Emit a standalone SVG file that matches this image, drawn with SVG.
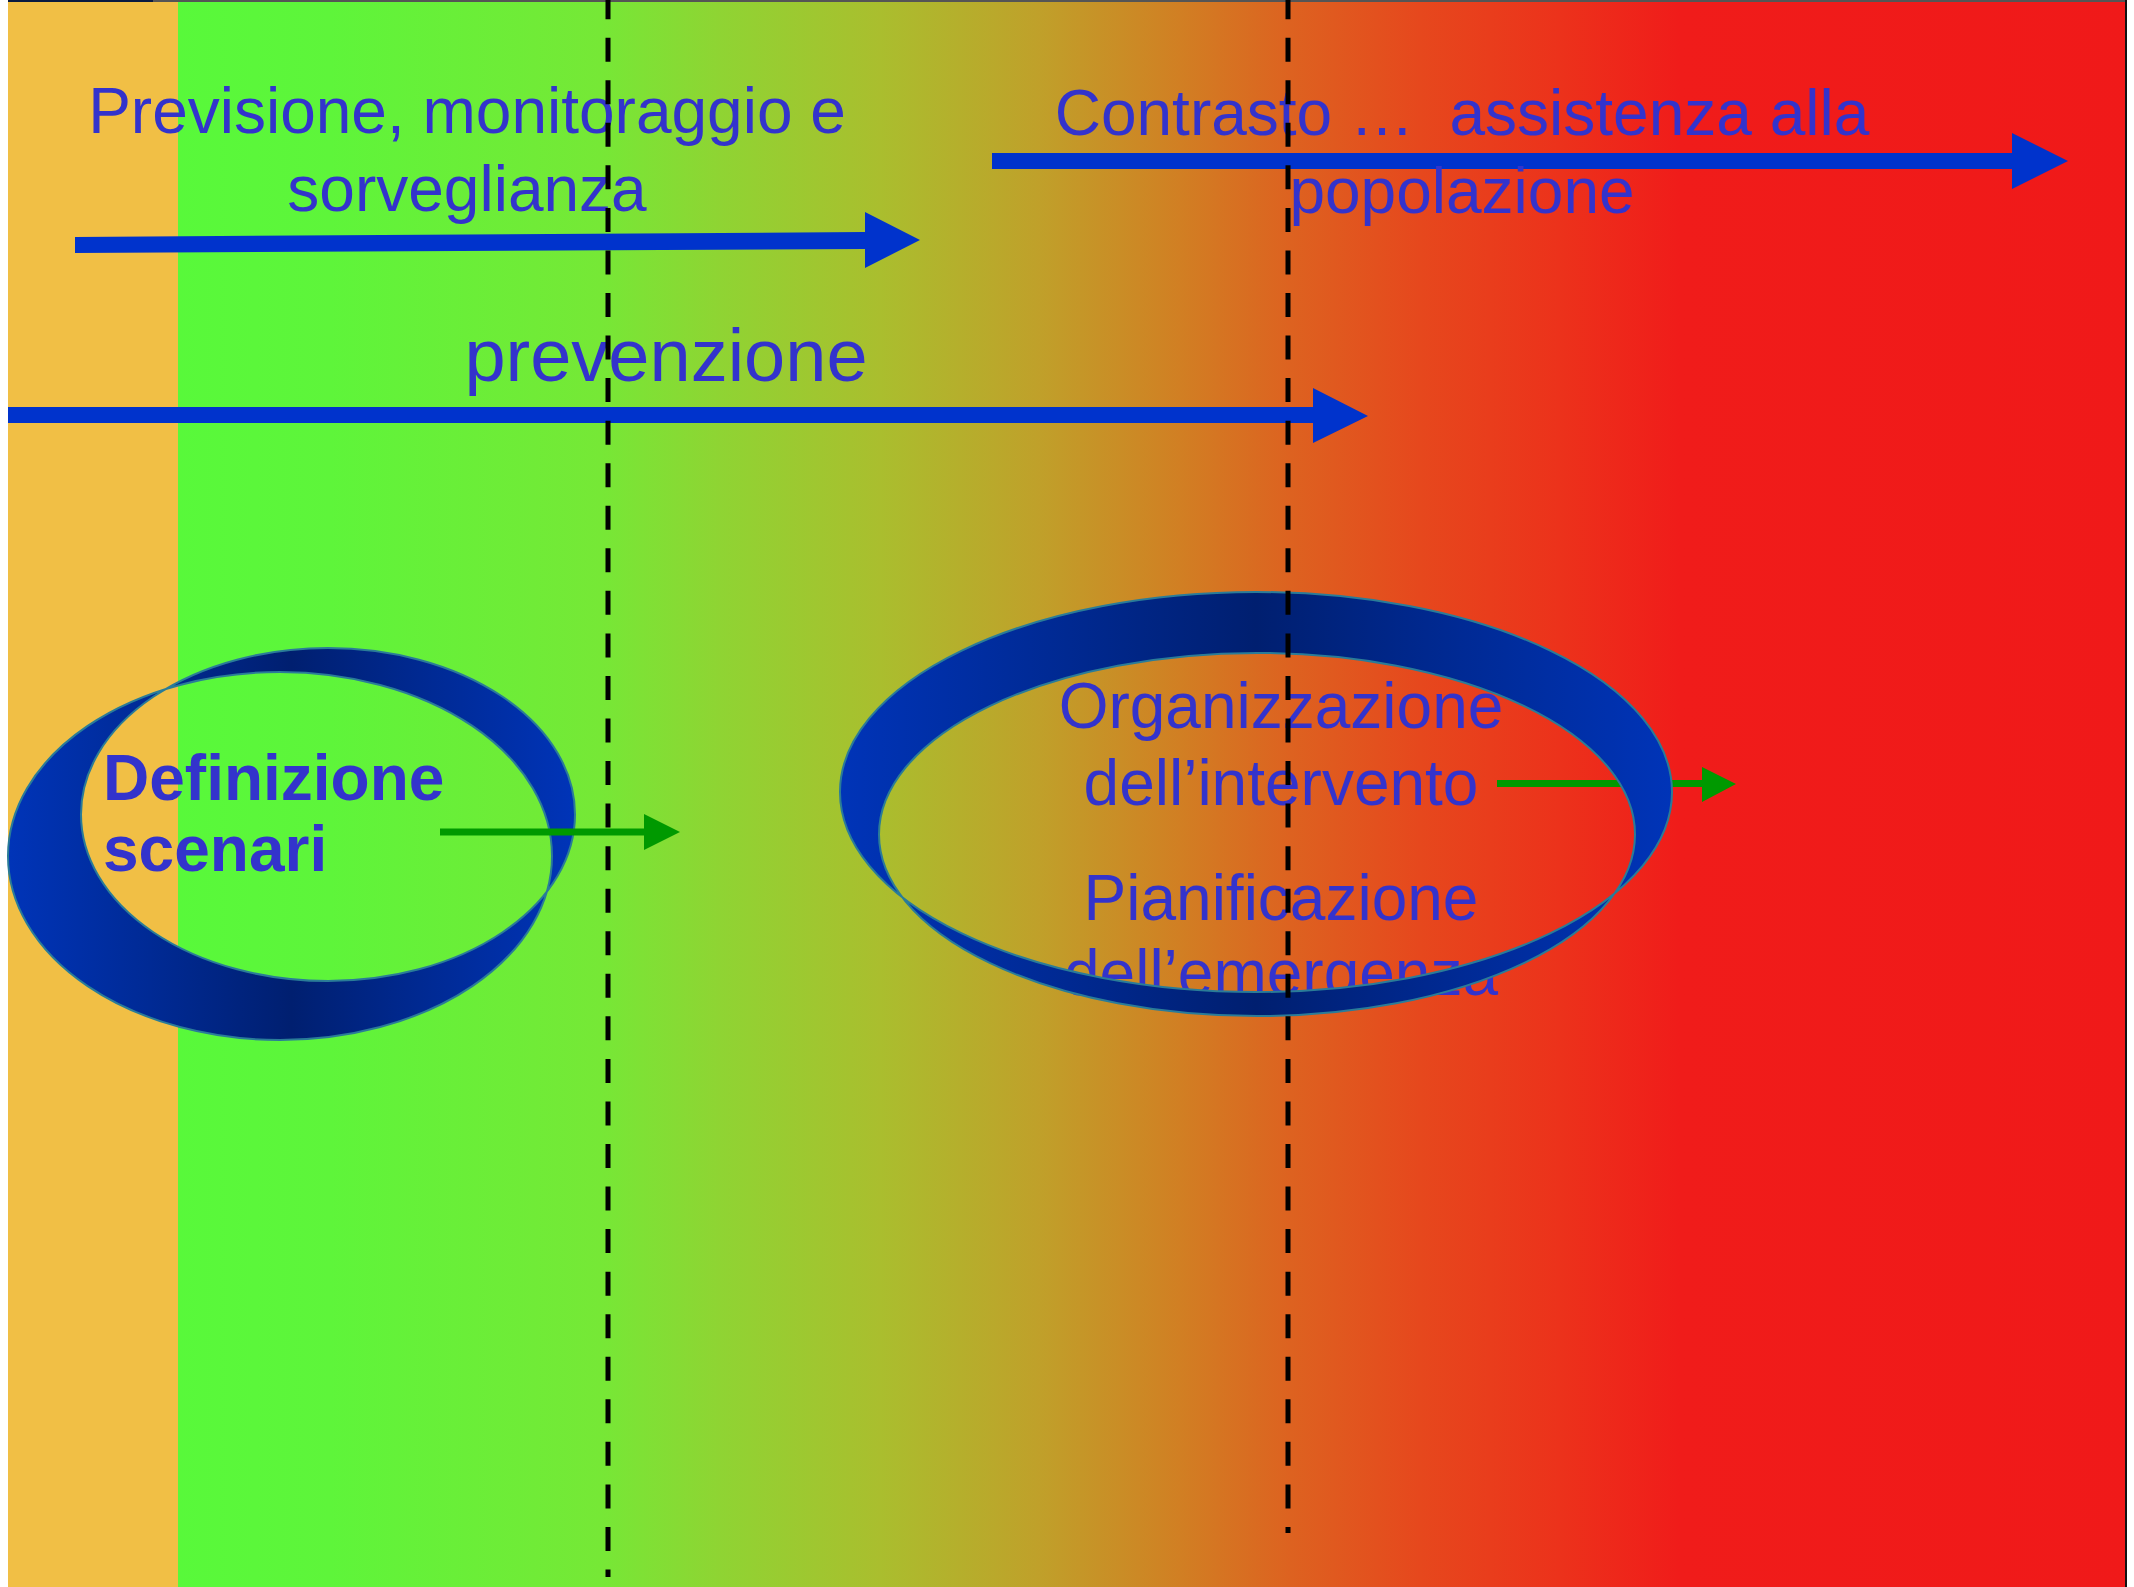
<svg xmlns="http://www.w3.org/2000/svg" width="2134" height="1587" viewBox="0 0 2134 1587">
  <defs>
    <style>
      .lbl { font-family: "Liberation Sans", Arial, sans-serif; font-size: 64px; fill: #3333CC; }
      .bold { font-weight: bold; }
      .mid { text-anchor: middle; }
      .phase { fill: #0033CC; }
      .flow { fill: #009900; }
      .band { fill: url(#bandShade); fill-rule: evenodd; stroke: #2A7C98; stroke-width: 2; }
      .divider { stroke: #000; stroke-width: 5; fill: none; stroke-dasharray: 24 18.55; stroke-dashoffset: 4.85; }
    </style>
    <!-- horizontal shift from calm (green) to emergency (red) -->
    <linearGradient id="phaseShift" gradientUnits="userSpaceOnUse" x1="0" y1="0" x2="2134" y2="0">
      <stop offset="0.0834" stop-color="#58F93A"/>
      <stop offset="0.1546" stop-color="#5EF53A"/>
      <stop offset="0.2812" stop-color="#76E836"/>
      <stop offset="0.3374" stop-color="#8FD433"/>
      <stop offset="0.4124" stop-color="#AABE2E"/>
      <stop offset="0.4873" stop-color="#C0A02A"/>
      <stop offset="0.5530" stop-color="#D17F23"/>
      <stop offset="0.6045" stop-color="#DD6220"/>
      <stop offset="0.6654" stop-color="#E6481D"/>
      <stop offset="0.7310" stop-color="#EC321B"/>
      <stop offset="0.7873" stop-color="#F01C1A"/>
      <stop offset="1" stop-color="#F01919"/>
    </linearGradient>
    <!-- shading of the ring bands: lighter at the sides, darker in the middle -->
    <linearGradient id="bandShade" x1="0" y1="0" x2="1" y2="0">
      <stop offset="0" stop-color="#0034B8"/>
      <stop offset="0.25" stop-color="#002A95"/>
      <stop offset="0.5" stop-color="#001F70"/>
      <stop offset="0.75" stop-color="#002A95"/>
      <stop offset="1" stop-color="#0034B8"/>
    </linearGradient>
  </defs>

  <!-- page and phase background -->
  <g id="background">
    <rect x="0" y="0" width="2134" height="1587" fill="#FFFFFF"/>
    <rect x="8" y="2" width="170" height="1585" fill="#F1BF45"/>
    <rect x="178" y="2" width="1947" height="1585" fill="url(#phaseShift)"/>
    <rect x="8" y="0" width="2119" height="2" fill="#555555"/>
    <rect x="8" y="0" width="145" height="2" fill="#0A1A40"/>
    <rect x="2125" y="0" width="2" height="1587" fill="#111111"/>
  </g>

  <!-- activity arrows -->
  <g id="previsione">
    <polygon class="phase" points="75,237 865,232 865,212 920,240 865,268 865,249 75,253"/>
    <text class="lbl mid" x="467" y="133">Previsione, monitoraggio e</text>
    <text class="lbl mid" x="467" y="211">sorveglianza</text>
  </g>

  <g id="contrasto">
    <polygon class="phase" points="992,153 2012,153 2012,133 2068,161 2012,189 2012,169 992,169"/>
    <text class="lbl mid" x="1462" y="135" xml:space="preserve">Contrasto …  assistenza alla</text>
    <text class="lbl mid" x="1462" y="213">popolazione</text>
  </g>

  <g id="prevenzione">
    <polygon class="phase" points="8,407 1313,407 1313,388 1368,416 1313,443 1313,423 8,423"/>
    <text class="lbl mid" x="666" y="381" style="font-size:74px">prevenzione</text>
  </g>

  <!-- scenario ring -->
  <g id="scenari">
    <path class="band" d="M 81 814.5 a 247 166.5 0 1 0 494 0 a 247 166.5 0 1 0 -494 0 Z
                          M 8 856 a 272 184 0 1 0 544 0 a 272 184 0 1 0 -544 0 Z"/>
    <text class="lbl bold" x="103" y="800">Definizione</text>
    <text class="lbl bold" x="103" y="871">scenari</text>
  </g>

  <!-- outgoing flows from the rings -->
  <g id="connectors">
    <polygon class="flow" points="440,828.5 644,828.5 644,814 680,832 644,850 644,835.5 440,835.5"/>
    <polygon class="flow" points="1497,780 1702,780 1702,767 1736,784 1702,802 1702,787 1497,787"/>
  </g>

  <!-- planning ring -->
  <g id="pianificazione">
    <text class="lbl mid" x="1281" y="728">Organizzazione</text>
    <text class="lbl mid" x="1281" y="805">dell’intervento</text>
    <text class="lbl mid" x="1281" y="920">Pianificazione</text>
    <text class="lbl mid" x="1281" y="995">dell’emergenza</text>
    <path class="band" d="M 840 792 a 416 200 0 1 0 832 0 a 416 200 0 1 0 -832 0 Z
                          M 879 834.5 a 378 181.5 0 1 0 756 0 a 378 181.5 0 1 0 -756 0 Z"/>
  </g>

  <!-- phase boundaries -->
  <g id="dividers">
    <line class="divider" x1="608" y1="0" x2="608" y2="1577"/>
    <line class="divider" x1="1288" y1="0" x2="1288" y2="1533"/>
  </g>
</svg>
